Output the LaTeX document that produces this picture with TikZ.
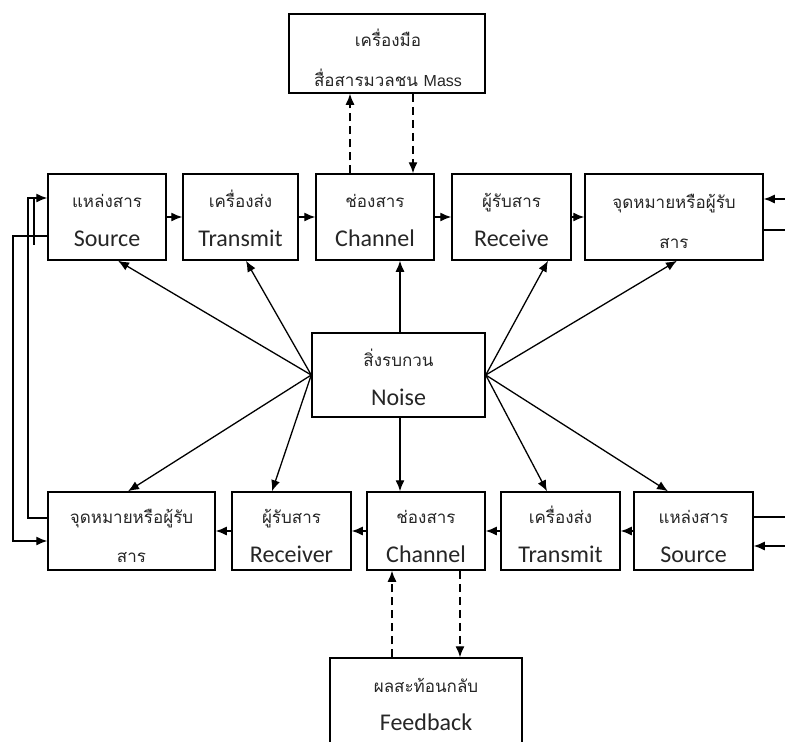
\documentclass[tikz,border=0pt]{standalone}
\usepackage{fontspec}
\usetikzlibrary{arrows.meta}
\newfontfamily\thaifont[Script=Thai]{Loma}
\newfontfamily\latfont{Carlito}
\newfontfamily\arialfont{Liberation Sans}
\begin{document}
\begin{tikzpicture}[x=1pt,y=-1pt,
  box/.style={draw=black,line width=1.5pt,inner sep=0pt},
  th/.style={font=\thaifont\fontsize{17}{20}\selectfont,inner sep=0pt,anchor=base,text=black!85},
  la/.style={font=\latfont\fontsize{24}{28}\selectfont,inner sep=0pt,anchor=base,text=black!85},
  conn/.style={line width=1.3pt},
  arr/.style={conn,-{Latex[length=11pt,width=9pt]}},
  dsh/.style={arr,dash pattern=on 8pt off 5pt}]
\useasboundingbox (0,0) rectangle (785,742);
\fill[white] (0,0) rectangle (785,742);
\clip (0,0) rectangle (785,742);

% top row
\node[box,minimum width=118pt,minimum height=86pt] (s1) at (107,217) {};
\node[th] (s1a) at (107,207) {แหล่งสาร};
\node[la] (s1b) at (107,246) {Source};
\node[box,minimum width=115pt,minimum height=86pt] (t1) at (240.5,217) {};
\node[th] (t1a) at (240.5,207) {เครื่องส่ง};
\node[la] (t1b) at (240.5,246) {Transmit};
\node[box,minimum width=118pt,minimum height=86pt] (c1) at (375,217) {};
\node[th] (c1a) at (375,207) {ช่องสาร};
\node[la] (c1b) at (375,246) {Channel};
\node[box,minimum width=119pt,minimum height=86pt] (r1) at (511.5,217) {};
\node[th] (r1a) at (511.5,207) {ผู้รับสาร};
\node[la] (r1b) at (511.5,246) {Receive};
\node[box,minimum width=178pt,minimum height=86pt] (d1) at (674,217) {};
\node[th] (d1a) at (674,208) {จุดหมายหรือผู้รับ};
\node[th] (d1b) at (674,248) {สาร};

% bottom row
\node[box,minimum width=167pt,minimum height=78pt] (d2) at (131.5,531) {};
\node[th] (d2a) at (131.5,523) {จุดหมายหรือผู้รับ};
\node[th] (d2b) at (131.5,562) {สาร};
\node[box,minimum width=119pt,minimum height=78pt] (r2) at (291.5,531) {};
\node[th] (r2a) at (291.5,523) {ผู้รับสาร};
\node[la] (r2b) at (291.5,562) {Receiver};
\node[box,minimum width=118pt,minimum height=78pt] (c2) at (426,531) {};
\node[th] (c2a) at (426,523) {ช่องสาร};
\node[la] (c2b) at (426,562) {Channel};
\node[box,minimum width=119pt,minimum height=78pt] (t2) at (560.5,531) {};
\node[th] (t2a) at (560.5,523) {เครื่องส่ง};
\node[la] (t2b) at (560.5,562) {Transmit};
\node[box,minimum width=119pt,minimum height=78pt] (s2) at (693.5,531) {};
\node[th] (s2a) at (693.5,523) {แหล่งสาร};
\node[la] (s2b) at (693.5,562) {Source};

% mass media, noise, feedback
\node[box,minimum width=196pt,minimum height=79pt] (m) at (387,53.5) {};
\node[th] (ma) at (388,46) {เครื่องมือ};
\node[th] (mb) at (388,86) {สื่อสารมวลชน {\arialfont\fontsize{16}{18}\selectfont Mass}};
\node[box,minimum width=173pt,minimum height=84pt] (n) at (398.5,375) {};
\node[th] (na) at (398.5,366) {สิ่งรบกวน};
\node[la] (nb) at (398.5,405) {Noise};
\node[box,minimum width=192pt,minimum height=112pt] (f) at (426,714) {};
\node[th] (fa) at (426,692) {ผลสะท้อนกลับ};
\node[la] (fb) at (426,730) {Feedback};

% flow arrows
\draw[arr] (s1) -- (t1);
\draw[arr] (t1) -- (c1);
\draw[arr] (c1) -- (r1);
\draw[arr] (r1) -- (d1);
\draw[arr] (s2) -- (t2);
\draw[arr] (t2) -- (c2);
\draw[arr] (c2) -- (r2);
\draw[arr] (r2) -- (d2);

% noise arrows
\draw[arr] (n.west) -- ([xshift=11pt]s1.south);
\draw[arr] (n.west) -- ([xshift=5.5pt]t1.south);
\draw[arr] ([xshift=1.5pt]n.north) -- ([xshift=25pt]c1.south);
\draw[arr] (n.east) -- ([xshift=36.5pt]r1.south);
\draw[arr] (n.east) -- ([xshift=3pt]d1.south);
\draw[arr] (n.west) -- ([xshift=-3.5pt]d2.north);
\draw[arr] (n.west) -- ([xshift=-19.5pt]r2.north);
\draw[arr] ([xshift=1.5pt]n.south) -- ([xshift=-26pt]c2.north);
\draw[arr] (n.east) -- ([xshift=-13.5pt]t2.north);
\draw[arr] (n.east) -- ([xshift=-25.5pt]s2.north);

% mass media dashed
\draw[dsh] ([xshift=-25pt]c1.north) -- ([xshift=-25pt]c1.north |- m.south);
\draw[dsh] ([xshift=38pt]c1.north |- m.south) -- ([xshift=38pt]c1.north);
% feedback dashed
\draw[dsh] ([xshift=-34pt]f.north) -- ([xshift=-34pt]c2.south);
\draw[dsh] ([xshift=34pt]c2.south) -- ([xshift=34pt]f.north);

% left loops
\coordinate (lx1) at (13,400);
\coordinate (lx2) at (28,400);
\draw[arr] ([yshift=-19pt]s1.west) -| (lx1) |- ([yshift=-10pt]d2.west);
\draw[arr] ([yshift=13pt]d2.west) -| (lx2) |- ([yshift=19pt]s1.west);
\draw[line width=2pt] ([xshift=-13pt,yshift=19pt]s1.west) -- ([xshift=-13pt,yshift=-28pt]s1.west);

% right edge
\coordinate (re1) at (786,199);
\coordinate (re2) at (786,230);
\coordinate (re3) at (786,517);
\coordinate (re4) at (786,546);
\draw[arr] (re1) -- (re1 -| d1.east);
\draw[conn] (re2 -| d1.east) -- (re2);
\draw[conn] (re3 -| s2.east) -- (re3);
\draw[arr] (re4) -- (re4 -| s2.east);
\end{tikzpicture}
\end{document}
